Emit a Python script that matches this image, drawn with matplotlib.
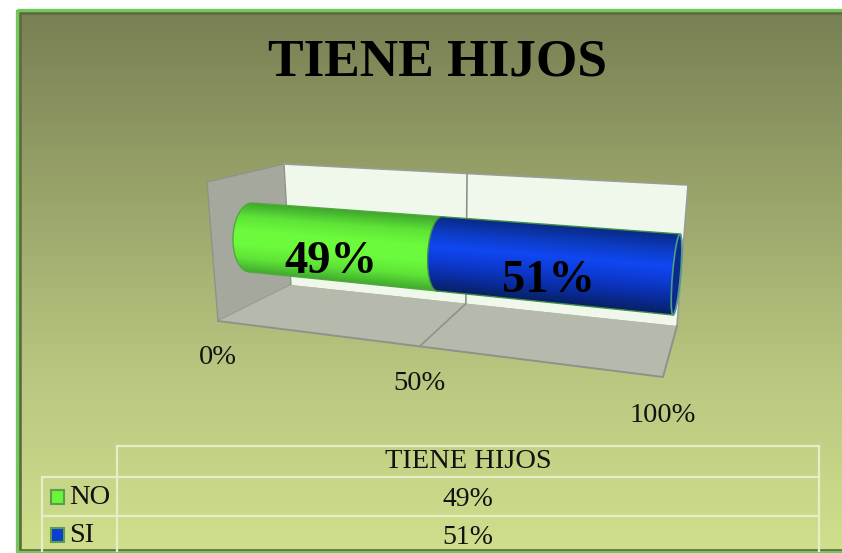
import numpy as np
import matplotlib
matplotlib.use("Agg")
import matplotlib.pyplot as plt
from matplotlib.colors import LinearSegmentedColormap
from matplotlib.patches import Polygon, Rectangle, Ellipse

title = "TIENE HIJOS"
categories = ["NO", "SI"]
values = [49, 51]
axis_ticks = [0, 50, 100]
WIDTH, HEIGHT = 842, 553

# corners of the fake 3d box, in pixels
wall_tl, wall_tr = (207, 182), (284, 164)
wall_bl, wall_br = (218, 321), (291, 285)
back_tr, back_br = (688, 185), (677, 326)
floor_fr = (663, 377)
PERSP = 1.207


def persp(t):
    return t / (t + PERSP * (1 - t))


def lerp(a, b, s):
    return np.array(a) + (np.array(b) - np.array(a)) * s


def cyl_ends(t):
    s = persp(t)
    top = lerp((252, 203), (680, 234), s)
    bot = lerp((250, 272), (673, 315), s)
    rx = 18 + (4 - 18) * s
    return top, bot, rx


def arc(t, bulge=-1):
    top, bot, rx = cyl_ends(t)
    c = (top + bot) / 2
    ang = np.linspace(-np.pi / 2, np.pi / 2, 40)
    xs = c[0] + (top[0] - c[0]) * -np.sin(ang) + bulge * rx * np.cos(ang)
    ys = c[1] + (top[1] - c[1]) * -np.sin(ang)
    return np.column_stack([xs, ys])


def draw_segment(ax, t0, t1, stops, edge, z):
    # shaded along the tube, clipped to the segment outline
    outline = np.vstack([arc(t0), arc(t1, 1)[::-1]])
    xx, yy = np.meshgrid(np.arange(220, 700), np.arange(190, 330))
    a, b = cyl_ends(0)[:2]
    c, d = cyl_ends(1)[:2]
    top_y = a[1] + (xx - a[0]) * (c[1] - a[1]) / (c[0] - a[0])
    bot_y = b[1] + (xx - b[0]) * (d[1] - b[1]) / (d[0] - b[0])
    v = np.clip((yy - top_y) / (bot_y - top_y), 0, 1)
    cmap = LinearSegmentedColormap.from_list("tube", stops)
    im = ax.imshow(v, cmap=cmap, vmin=0, vmax=1, extent=(220, 700, 330, 190),
                   aspect="auto", zorder=z, interpolation="bilinear")
    patch = Polygon(outline, closed=True, facecolor="none", edgecolor=edge, lw=1.0, zorder=z + 0.5)
    ax.add_patch(patch)
    im.set_clip_path(patch)


fig = plt.figure(figsize=(WIDTH / 100, HEIGHT / 100), dpi=100)
ax = fig.add_axes([0, 0, 1, 1])
ax.set_xlim(0, WIDTH)
ax.set_ylim(HEIGHT, 0)
ax.axis("off")

# background panel
bg = LinearSegmentedColormap.from_list("bg", ["#787f54", "#98a369", "#b8c680", "#d0df8c"])
grad = np.linspace(0, 1, 256).reshape(-1, 1)
ax.imshow(grad, cmap=bg, extent=(16, WIDTH, 551, 10), aspect="auto", zorder=0)
ax.set_xlim(0, WIDTH)
ax.set_ylim(HEIGHT, 0)
ax.add_patch(Rectangle((19.5, 12.5), WIDTH, 538, fill=False, ec="#5c6a3e", lw=2.6, zorder=1))
ax.add_patch(Rectangle((16.5, 9.5), WIDTH, 542, fill=False, ec="#72c85c", lw=2.4, zorder=1))

ax.text(437, 62, title, ha="center", va="center", fontsize=38.4, fontweight="bold",
        family="Liberation Serif", color="black", zorder=8)

# box
ax.add_patch(Polygon([wall_br, wall_tr, back_tr, back_br], closed=True, fc="#f0f8ec", ec="none", zorder=1))
ax.add_patch(Polygon([wall_tl, wall_tr, wall_br, wall_bl], closed=True, fc="#a5a99d", ec="#8f9388", lw=1, zorder=2))
ax.add_patch(Polygon([wall_bl, wall_br, back_br, floor_fr], closed=True, fc="#b5baad", ec="none", zorder=2))
ax.plot(*zip(wall_tr, back_tr, back_br), color="#9a9d95", lw=1.2, zorder=2)
ax.plot(*zip(back_br, floor_fr, wall_bl), color="#8f928b", lw=1.4, zorder=3)
for tick in axis_ticks:
    s = persp(tick / 100)
    front = lerp(wall_bl, floor_fr, s)
    ax.text(front[0], front[1] + 36 + 2 * tick / 100, f"{tick}%", ha="center", va="center", fontsize=20.5,
            family="Liberation Serif", color="#111111", zorder=8)
    if 0 < tick < 100:
        b_top = lerp(wall_tr, back_tr, s)
        b_bot = lerp(wall_br, back_br, s)
        ax.plot(*zip(b_top, b_bot, front), color="#8f928b", lw=1.2, zorder=3)

# tube
green_stops = ["#3fa82e", "#5fe437", "#6cfb3c", "#6cfb3c", "#5fe437", "#3fa82e"]
blue_stops = ["#0a2a86", "#0d3cc4", "#1047f2", "#0d3ad0", "#0a2ca0", "#08205f"]
stops = [green_stops, blue_stops]
edges = ["#52a83c", "#3f8f4a"]
total = sum(values)
start = 0
for i, (val, st, ed) in enumerate(zip(values, stops, edges)):
    draw_segment(ax, start / total, (start + val) / total, st, ed, 4 + i)
    start += val

# open right end of the tube
top, bot, rx = cyl_ends(1)
c = (top + bot) / 2
ang = np.degrees(np.arctan2(top[0] - bot[0], bot[1] - top[1]))
ax.add_patch(Ellipse(c, 2 * rx, np.hypot(*(top - bot)), angle=ang, fc="#0a2a8e", ec="#4c9c86", lw=1.2, zorder=6))

# data labels
start = 0
for val in values:
    t = (start + val / 2) / total
    top, bot, _ = cyl_ends(t)
    cx = (top[0] + bot[0]) / 2 - 14 * (1 - t)
    cy = (top[1] + bot[1]) / 2 + 17
    ax.text(cx, cy, f"{val}%", ha="center", va="center", fontsize=33.5, fontweight="bold",
            family="Liberation Serif", color="black", zorder=9)
    start += val

# data table
line_kw = dict(color="#e6eec8", lw=1.6, zorder=3)
ax.plot([117, 819], [446, 446], **line_kw)
ax.plot([117, 117], [446, 551], **line_kw)
ax.plot([819, 819], [446, 551], **line_kw)
ax.plot([42, 42], [477, 551], **line_kw)
ax.plot([42, 819], [477, 477], **line_kw)
ax.plot([42, 819], [516, 516], **line_kw)
ax.text(468, 462, title, ha="center", va="center", fontsize=20.5, family="Liberation Serif", color="#111111", zorder=8)
swatches = ["#69f53a", "#0a3fd0"]
for i, (cat, val, col) in enumerate(zip(categories, values, swatches)):
    y = 497 + i * 38
    ax.add_patch(Rectangle((50.5, y - 7.5), 13, 14, fc=col, ec="#5d9c4c", lw=1.5, zorder=6))
    ax.text(69, y, cat, ha="left", va="center", fontsize=20.5, family="Liberation Serif", color="#111111", zorder=8)
    ax.text(468, y + 2, f"{val}%", ha="center", va="center", fontsize=20, family="Liberation Serif", color="#111111", zorder=8)

plt.savefig("out.png", dpi=100)
